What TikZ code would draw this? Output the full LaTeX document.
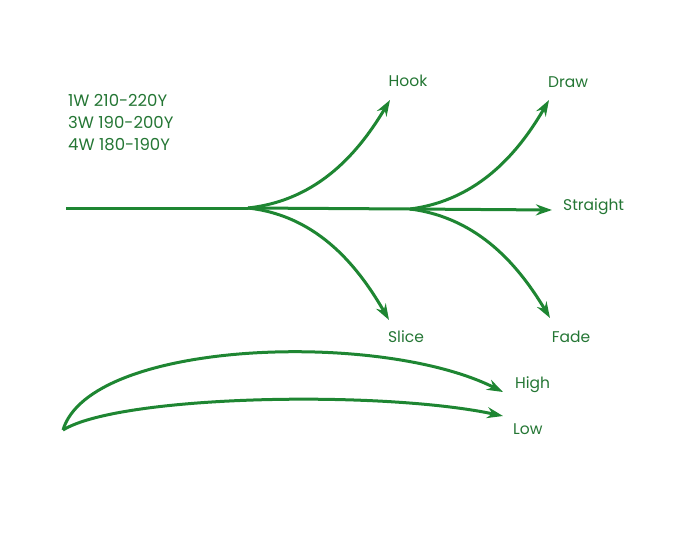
\documentclass[tikz,border=0pt]{standalone}
\usepackage{fontspec}
\setmainfont{Poppins}
\usepackage{tikz}
\usetikzlibrary{arrows.meta, positioning}
\definecolor{shotgreen}{RGB}{30,134,50}
\definecolor{textgreen}{RGB}{36,118,52}
\tikzset{
flight/.style={draw=shotgreen, line width=3pt, -{Stealth[length=16pt,width=11pt]}}, % ball flight with arrow head
base/.style={draw=shotgreen, line width=3pt}, % line without head
lbl/.style={text=textgreen, font=\fontsize{15.5}{18}\selectfont, inner sep=0pt}, % the shot names
}
\begin{document}
\begin{tikzpicture}[x=1pt, y=-1pt]
        \useasboundingbox (0,0) rectangle (700,551);
        \node[lbl, anchor=north west, align=left, font=\fontsize{16.5}{22}\selectfont] (clubs) at (68,94) {1W 210-220Y\\3W 190-200Y\\4W 180-190Y};

        \coordinate (tee) at (66,208);
        \coordinate (fork1) at (248,208);
        \coordinate (fork2) at (410,209);
        \coordinate (hooktip) at (390,100);
        \coordinate (slicetip) at (389,320);
        \coordinate (drawtip) at (549,100);
        \coordinate (fadetip) at (550,318);
        \coordinate (straighttip) at (552,210);
        \coordinate (start) at (63,430);
        \coordinate (hightip) at (503,392);
        \coordinate (lowtip) at (503,416);

        \node[lbl] (hook) at (408,81) {Hook};
        \node[lbl] (draw) at (568,82) {Draw};
        \node[lbl, anchor=west] (straight) at (563,207) {Straight};
        \node[lbl] (slice) at (406,337) {Slice};
        \node[lbl] (fade) at (571,337) {Fade};
        \node[lbl, anchor=west] (high) at (515,385) {High};
        \node[lbl, anchor=west] (low) at (513,429) {Low};

        \draw[base] (tee) -- (fork1);
        \draw[flight] (fork1) -- (fork2) -- (straighttip);
        \draw[flight] (fork1) .. controls (320,200) and (360,150) .. (hooktip);
        \draw[flight] (fork1) .. controls (320,216) and (360,270) .. (slicetip);
        \draw[flight] (fork2) .. controls (480,200) and (520,150) .. (drawtip);
        \draw[flight] (fork2) .. controls (480,218) and (520,268) .. (fadetip);
        \draw[flight] (start) .. controls (90,340) and (380,330) .. (hightip);
        \draw[flight] (start) .. controls (120,395) and (380,390) .. (lowtip);
      \end{tikzpicture}
\end{document}
